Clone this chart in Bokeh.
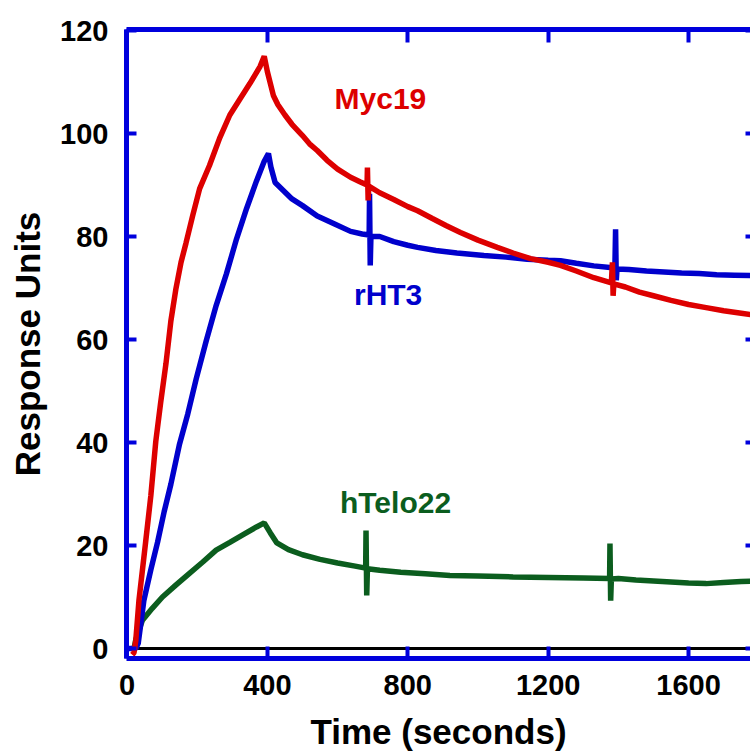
from bokeh.plotting import figure
from bokeh.models import LinearAxis, FixedTicker, Range1d, ColumnDataSource
from bokeh.core.properties import value
from bokeh.embed import file_html
from bokeh.resources import INLINE

# ---------------- data ----------------
myc19_t = [15, 20, 25, 34, 53, 68, 82, 96, 111, 125, 139, 154, 168, 187, 207, 235, 264, 293,
           321, 350, 379, 391, 400, 417, 430, 450, 470, 500, 520, 542, 570, 600, 637, 665,
           684, 685, 687, 689, 720, 760, 800, 828, 870, 910, 950, 1000, 1055, 1100, 1150,
           1200, 1235, 1280, 1330, 1380, 1383, 1385, 1387, 1420, 1460, 1500, 1550, 1600,
           1650, 1700, 1750, 1780]
myc19_v = [-1.2, -0.8, 1.5, 9.3, 20.6, 29.7, 40.2, 47.8, 55.3, 63.6, 69.7, 75.0, 78.7, 84.0,
           89.3, 93.8, 99.1, 103.6, 106.6, 109.7, 113.0, 115.0, 112.0, 107.4, 105.6, 103.6,
           101.8, 99.6, 98.0, 96.7, 94.8, 93.1, 91.5, 90.6, 90.0, 93.4, 87.0, 89.8, 88.5,
           87.2, 85.8, 85.0, 83.5, 82.1, 80.8, 79.3, 77.9, 76.8, 75.7, 75.0, 74.4, 73.3,
           72.0, 71.0, 75.0, 68.5, 70.8, 70.2, 69.2, 68.5, 67.6, 66.8, 66.2, 65.6, 65.1, 64.8]

rht3_t = [0, 25, 32, 48, 68, 87, 106, 125, 149, 173, 197, 226, 254, 283, 312, 341, 369, 391,
          403, 410, 422, 446, 470, 500, 542, 590, 637, 670, 690, 691, 693, 695, 720, 760,
          800, 828, 880, 940, 1017, 1080, 1140, 1200, 1235, 1280, 1330, 1390, 1392, 1394,
          1396, 1430, 1480, 1530, 1580, 1630, 1680, 1730, 1780]
rht3_v = [0.0, 0.0, 1.0, 9.3, 15.3, 20.6, 26.6, 31.9, 39.5, 45.5, 52.3, 59.8, 66.6, 72.7,
          79.5, 85.5, 90.8, 94.6, 96.1, 93.5, 90.5, 88.9, 87.3, 86.0, 84.0, 82.5, 81.0,
          80.5, 80.3, 88.3, 74.4, 80.0, 80.0, 79.0, 78.3, 77.9, 77.3, 76.8, 76.3, 76.0,
          75.6, 75.4, 75.3, 74.8, 74.3, 73.9, 81.4, 71.5, 73.7, 73.6, 73.3, 73.1, 72.9,
          72.8, 72.6, 72.5, 72.4]

htelo22_t = [20, 25, 44, 72, 101, 139, 178, 216, 254, 293, 331, 369, 391, 408, 427, 460, 500,
             550, 600, 650, 680, 681, 683, 685, 720, 780, 850, 920, 1000, 1100, 1200, 1300,
             1375, 1376, 1378, 1380, 1400, 1450, 1500, 1550, 1600, 1650, 1700, 1750, 1780]
htelo22_v = [0.0, 1.7, 5.5, 7.8, 10.0, 12.3, 14.6, 16.8, 19.1, 20.6, 22.1, 23.6, 24.4, 22.5,
             20.5, 19.2, 18.2, 17.3, 16.6, 16.0, 15.6, 22.9, 10.3, 15.5, 15.2, 14.8, 14.5,
             14.2, 14.1, 13.9, 13.8, 13.7, 13.6, 20.4, 9.3, 13.5, 13.6, 13.3, 13.1, 12.9,
             12.7, 12.6, 12.8, 13.0, 13.1]

baseline_t = [30, 1780]
baseline_v = [0, 0]

label_names = ["Myc19", "rHT3", "hTelo22"]
label_x = [722, 744, 765]
label_y = [106.8, 68.7, 28.3]
label_colors = ["#dd0000", "#0000cc", "#0b5d1e"]

x_ticks = [0, 400, 800, 1200, 1600]
y_ticks = [0, 20, 40, 60, 80, 100, 120]

# ---------------- figure ----------------
FONT = "Liberation Sans"
AXIS_BLUE = "#0000dd"

p = figure(width=750, height=756, x_range=Range1d(-1.4, 1776.4), y_range=Range1d(-1.94, 120.2),
           output_backend="svg", toolbar_location=None,
           min_border_left=126, min_border_top=29, min_border_right=0, min_border_bottom=98)
p.outline_line_color = None
p.grid.visible = False
p.background_fill_color = "white"
p.border_fill_color = "white"

def style_axis(ax, tick_in, labels=True):
    ax.axis_line_color = AXIS_BLUE
    ax.axis_line_width = 5
    ax.major_tick_line_color = AXIS_BLUE
    ax.major_tick_line_width = 4
    ax.major_tick_in = tick_in
    ax.major_tick_out = 0
    ax.minor_tick_line_color = None
    if labels:
        ax.major_label_text_font = FONT
        ax.major_label_text_font_style = "bold"
        ax.major_label_text_font_size = "29px"
        ax.major_label_text_color = "black"
        ax.axis_label_text_font = FONT
        ax.axis_label_text_font_style = "bold"
        ax.axis_label_text_font_size = "35px"
        ax.axis_label_text_color = "black"
    else:
        # tick marks only: labels are not drawn at all
        ax.major_label_text_color = None
        ax.major_label_text_font_size = "1px"
        ax.major_label_standoff = 0

xa = p.xaxis[0]
xa.ticker = FixedTicker(ticks=x_ticks)
style_axis(xa, 12)
xa.axis_label = "Time (seconds)"
xa.major_label_standoff = 16
xa.axis_label_standoff = 14

ya = p.yaxis[0]
ya.ticker = FixedTicker(ticks=y_ticks)
style_axis(ya, 10)
ya.axis_label = "Response Units"
ya.major_label_standoff = 18
ya.axis_label_standoff = 10

top = LinearAxis(ticker=FixedTicker(ticks=x_ticks))
style_axis(top, 13, labels=False)
p.add_layout(top, "above")

right = LinearAxis(ticker=FixedTicker(ticks=y_ticks))
style_axis(right, 5, labels=False)
right.axis_line_color = None
p.add_layout(right, "right")

# traces
p.line(baseline_t, baseline_v, line_color="black", line_width=3)
p.line(htelo22_t, htelo22_v, line_color="#0b5d1e", line_width=5.5)
p.line(rht3_t, rht3_v, line_color="#0000cc", line_width=5.5)
p.line(myc19_t, myc19_v, line_color="#dd0000", line_width=5.5)

src = ColumnDataSource(dict(x=label_x, y=label_y, text=label_names, color=label_colors))
p.text(x="x", y="y", text="text", text_color="color", source=src,
       text_font=value(FONT), text_font_style="bold", text_font_size="30px",
       text_align="center", text_baseline="middle")

open("out.html", "w").write(file_html(p, INLINE))
